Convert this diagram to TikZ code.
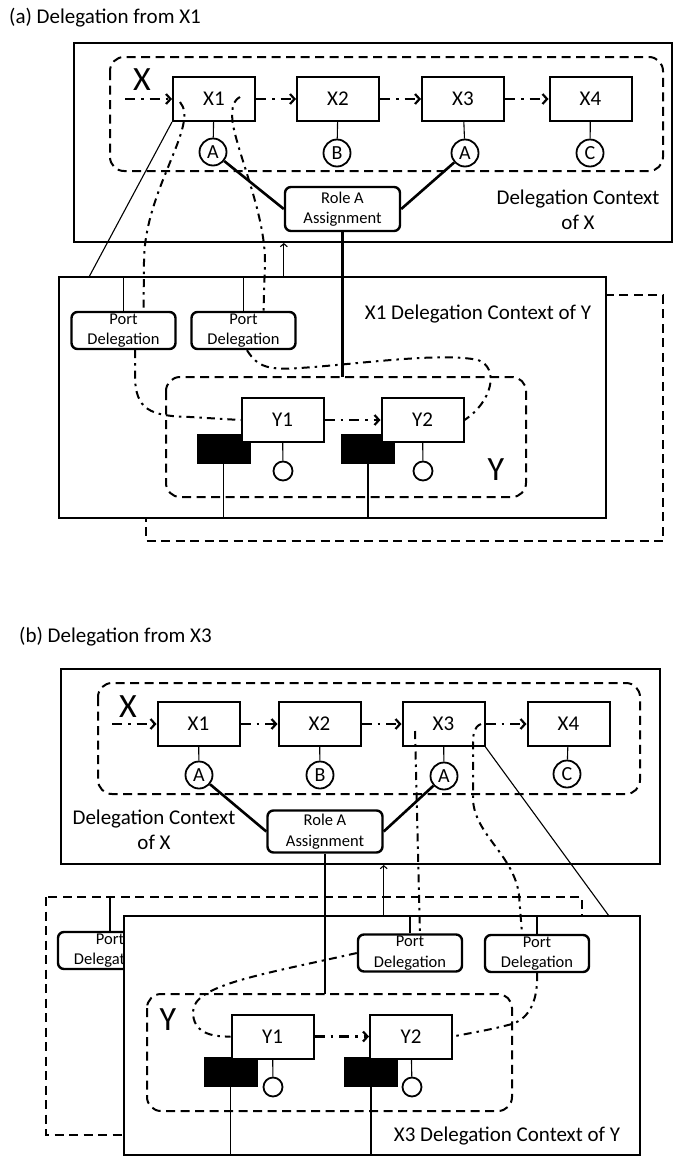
\documentclass[tikz,border=0pt]{standalone}
\usepackage{fontspec}
\setmainfont{Carlito}
\usetikzlibrary{arrows.meta}
\newcommand{\bodysz}{\fontsize{21}{25}\selectfont}
\newcommand{\portsz}{\fontsize{16.5}{20.5}\selectfont}
\begin{document}
\begin{tikzpicture}[x=1pt,y=-1pt,
		lbl/.style={inner sep=0pt,font=\bodysz},
		big/.style={inner sep=0pt,font=\fontsize{34}{38}\selectfont},
		ctx/.style={draw,line width=2pt,fill=white,inner sep=0pt},
		grp/.style={line width=2pt,dash pattern=on 9pt off 5.5pt,rounded corners=14pt},
		frame/.style={line width=2pt,dash pattern=on 9pt off 5.5pt},
		comp/.style={draw,line width=2pt,fill=white,minimum width=82pt,minimum height=44pt,inner sep=0pt,font=\bodysz},
		rolec/.style={draw,circle,line width=1.8pt,fill=white,minimum size=27pt,inner sep=0pt,font=\fontsize{20}{24}\selectfont},
		plug/.style={draw,circle,line width=1.8pt,fill=white,minimum size=19pt,inner sep=0pt},
		blk/.style={draw,fill=black,minimum width=53pt,minimum height=29pt,inner sep=0pt},
		assign/.style={draw,line width=2.4pt,fill=white,rounded corners=6pt,minimum width=115pt,minimum height=44pt,inner sep=0pt,align=center,font=\portsz},
		port/.style={draw,line width=2.4pt,fill=white,rounded corners=6pt,minimum width=104pt,minimum height=37pt,inner sep=0pt,align=center,font=\portsz},
		flow/.style={line width=2.2pt,dash pattern=on 10pt off 6pt on 2.5pt off 6pt,-{Straight Barb[length=4.5pt,width=10pt]}},
		deleg/.style={line width=2pt,dash pattern=on 8pt off 5pt on 2.5pt off 5pt},
		link/.style={line width=1.1pt},
		bind/.style={line width=2.6pt}]
	\useasboundingbox (0,0) rectangle (674,1157);

	% (a) Delegation from X1
	\node[lbl,anchor=west] (tA) at (9,18) {(a) Delegation from X1};
	\node[ctx,minimum width=598pt,minimum height=199pt] (cXa) at (373,142.5) {};
	\draw[grp] (110,57) rectangle (663,171);
	\node[big] (lXa) at (142,80) {X};
	\node[comp] (x1a) at (214,99) {X1};
	\node[comp] (x2a) at (338,99) {X2};
	\node[comp] (x3a) at (463,99) {X3};
	\node[comp] (x4a) at (590.5,99) {X4};
	\node[rolec] (a1a) at (213,152) {A};
	\node[rolec] (ba) at (337,153) {B};
	\node[rolec] (a3a) at (465,153) {A};
	\node[rolec] (ca) at (590,153) {C};
	\node[assign] (roleA) at (342.5,209) {Role A\\Assignment};
	\node[lbl,align=center] (dXa) at (578,209.5) {Delegation Context\\of X};
	\coordinate (ina) at (125,99);
	\draw[flow] (ina) -- (x1a);
	\draw[flow] (x1a) -- (x2a);
	\draw[flow] (x2a) -- (x3a);
	\draw[flow] (x3a) -- (x4a);
	\draw[link] (x1a) -- (a1a);
	\draw[link] (x2a) -- (ba);
	\draw[link] (x3a) -- (a3a);
	\draw[link] (x4a) -- (ca);
	\draw[bind] (a1a) -- (roleA.west);
	\draw[bind] (a3a) -- (roleA.east);

	% context of Y, seen from X1
	\draw[frame] (146,295) rectangle (663,541);
	\node[ctx,minimum width=547pt,minimum height=241pt] (cYa) at (332.5,397.5) {};
	\node[lbl] (dYa) at (478,314) {X1 Delegation Context of Y};
	\node[port] (pd1a) at (123.5,330.5) {Port\\Delegation};
	\node[port] (pd2a) at (243.5,330.5) {Port\\Delegation};
	\draw[grp] (166,377) rectangle (526,497);
	\coordinate (yga) at (166,377);
	\node[big] (lYa) at (496,470) {Y};
	\node[blk] (k1a) at (223.5,448.5) {};
	\node[blk] (k2a) at (368,448.5) {};
	\node[comp] (y1a) at (282.5,420) {Y1};
	\node[comp] (y2a) at (422.5,420) {Y2};
	\node[plug] (o1a) at (283,471) {};
	\node[plug] (o2a) at (423,471) {};
	\draw[link] (y1a) -- (o1a);
	\draw[link] (y2a) -- (o2a);
	\draw[link] (k1a.south) -- (k1a.south |- cYa.south);
	\draw[link] (k2a.south) -- (k2a.south |- cYa.south);
	\draw[flow] (y1a) -- (y2a);
	\draw[link] (pd1a.north) -- (pd1a.north |- cYa.north);
	\draw[link] (pd2a.north) -- (pd2a.north |- cYa.north);
	\coordinate (ea) at (89,277);
	\draw[link] (x1a.south west) -- (ea);
	\draw[link,-{Straight Barb[length=3pt,width=7pt]}] (roleA.west |- cYa.north) -- (roleA.west |- cXa.south);
	\draw[bind] (roleA.south) -- (roleA.south |- yga);
	% delegated ports of X1
	\coordinate (s1a) at (180,102);
	\coordinate (s2a) at (240,97);
	\draw[deleg] (s1a) .. controls (200,125) and (144,190) .. (144,262) -- ([xshift=20pt]pd1a.north);
	\draw[deleg] ([xshift=11.5pt]pd1a.south) -- (135,375) .. controls (135,410) and (150,416) .. (190,417) -- (y1a.west);
	\draw[deleg] (s2a) .. controls (232,101) and (231,112) .. (233,125) .. controls (240,160) and (265,215) .. (265,262) -- ([xshift=20pt]pd2a.north);
	\draw[deleg] ([xshift=3.5pt]pd2a.south) .. controls (258,368) and (270,370) .. (300,368) .. controls (360,364) and (440,352) .. (478,360) .. controls (500,368) and (492,402) .. (y2a.east);

	% (b) Delegation from X3
	\node[lbl,anchor=west] (tB) at (19,637) {(b) Delegation from X3};
	\node[ctx,minimum width=599pt,minimum height=195pt] (cXb) at (360.5,766.5) {};
	\draw[grp] (98,683) rectangle (640,794);
	\node[big] (lXb) at (128,707) {X};
	\node[comp] (x1b) at (198.5,724) {X1};
	\node[comp] (x2b) at (319.5,724) {X2};
	\node[comp] (x3b) at (443.5,724) {X3};
	\node[comp] (x4b) at (568.5,724) {X4};
	\node[rolec] (a1b) at (199,775) {A};
	\node[rolec] (bb) at (320,775) {B};
	\node[rolec] (a3b) at (444,776) {A};
	\node[rolec] (cb) at (567,774) {C};
	\node[assign,minimum height=42pt] (roleB) at (325,831.5) {Role A\\Assignment};
	\node[lbl,align=center] (dXb) at (154,830) {Delegation Context\\of X};
	\coordinate (inb) at (112,724);
	\draw[flow] (inb) -- (x1b);
	\draw[flow] (x1b) -- (x2b);
	\draw[flow] (x2b) -- (x3b);
	\draw[flow] (x3b) -- (x4b);
	\draw[link] (x1b) -- (a1b);
	\draw[link] (x2b) -- (bb);
	\draw[link] (x3b) -- (a3b);
	\draw[link] (x4b) -- (cb);
	\draw[bind] (a1b) -- (roleB.west);
	\draw[bind] (a3b) -- (roleB.east);

	% context of Y, seen from X3
	\draw[frame] (46,897) rectangle (582,1135);
	\coordinate (fb) at (46,897);
	\node[port] (pd0b) at (110,950.5) {Port\\Delegation};
	\draw[link] (pd0b.north) -- (pd0b.north |- fb);
	\node[ctx,minimum width=516pt,minimum height=239pt] (cYb) at (382,1035.5) {};
	\node[lbl] (dYb) at (507,1136) {X3 Delegation Context of Y};
	\node[port] (pd1b) at (410,953) {Port\\Delegation};
	\node[port] (pd2b) at (537,953.5) {Port\\Delegation};
	\draw[grp] (147,994) rectangle (512,1111);
	\coordinate (ygb) at (147,994);
	\node[big] (lYb) at (168,1020) {Y};
	\node[blk] (k1b) at (230.5,1071.5) {};
	\node[blk] (k2b) at (371,1071.5) {};
	\node[comp] (y1b) at (272.5,1036.5) {Y1};
	\node[comp] (y2b) at (411,1036.5) {Y2};
	\node[plug] (o1b) at (273,1087) {};
	\node[plug] (o2b) at (412,1087) {};
	\draw[link] (y1b) -- (o1b);
	\draw[link] (y2b) -- (o2b);
	\draw[link] (k1b.south) -- (k1b.south |- cYb.south);
	\draw[link] (k2b.south) -- (k2b.south |- cYb.south);
	\draw[flow] (y1b) -- (y2b);
	\draw[link] (pd1b.north) -- (pd1b.north |- cYb.north);
	\draw[link] (pd2b.north) -- (pd2b.north |- cYb.north);
	\coordinate (eb) at (609,916);
	\draw[link] (x3b.south east) -- (eb);
	\draw[link,-{Straight Barb[length=3pt,width=7pt]}] (roleB.east |- cYb.north) -- (roleB.east |- cXb.south);
	\draw[bind] (roleB.south) -- (roleB.south |- ygb);
	% delegated ports of X3
	\coordinate (s1b) at (415,731);
	\coordinate (s2b) at (481,724);
	\draw[deleg] (s1b) -- ([xshift=10pt]pd1b.north);
	\draw[deleg] (pd1b.west) .. controls (260,975) and (193,985) .. (193,1012) .. controls (193,1032) and (210,1037) .. (y1b.west);
	\draw[deleg] (s2b) .. controls (474,727) and (473,733) .. (473,745) -- (473,800) .. controls (475,835) and (514,855) .. (519,895) -- ([xshift=-15pt]pd2b.north);
	\draw[deleg] (pd2b.south) .. controls (538,1000) and (530,1018) .. (512,1024) .. controls (490,1030) and (470,1033) .. (y2b.east);
\end{tikzpicture}
\end{document}
